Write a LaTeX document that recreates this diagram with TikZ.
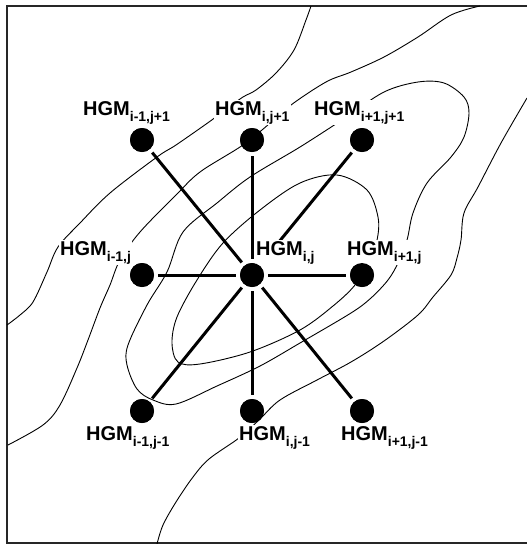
\documentclass[tikz,border=0pt]{standalone}
\usepackage{fontspec}
\setmainfont{Liberation Sans}
\newcommand{\hgmsub}[1]{\raisebox{-6pt}{\fontsize{14}{14}\selectfont #1}}
\begin{document}
\begin{tikzpicture}[x=1pt,y=-1pt,
  contour/.style={line width=0.9pt},
  link/.style={line width=3pt, shorten <=4pt, shorten >=4pt},
  dot/.style={circle, fill=black, minimum size=24pt, inner sep=0pt},
  lab/.style={anchor=base west, fill=white, inner sep=1.5pt, font=\fontsize{20}{20}\selectfont\bfseries}]
\path[use as bounding box] (0,0) rectangle (527,544);
\begin{scope}
\clip (0,0) rectangle (527,544);
\draw[line width=1.3pt, black!85] (7,6) rectangle (545,543);
% contour A
\draw[contour] plot[smooth, tension=0.55] coordinates {(311,6) (306,20) (294,50) (276,73) (256,90) (243,97) (225,110) (209,122) (176,145) (157,157) (110,193) (80,223) (58,247) (47,272) (33,302) (20,315) (7,325)};
% contour B
\draw[contour] plot[smooth, tension=0.55] coordinates {(480,6) (451,15) (418,37) (384,57) (351,72) (326,82) (291,105) (262,130) (240,147) (200,172) (176,195) (140,232) (120,260) (110,285) (100,308) (88,340) (77,368) (60,405) (43,425) (8,445)};
% contour C (closed)
\draw[contour] plot[smooth cycle, tension=0.55] coordinates {(384,92) (418,82) (444,83) (464,97) (469,113) (464,137) (451,157) (427,183) (413,213) (407,240) (398,263) (388,280) (371,298) (351,313) (300,343) (260,366) (217,386) (176,404) (153,400) (137,389) (127,365) (128,345) (147,305) (167,272) (183,232) (217,203) (250,177) (300,147) (345,118)};
% contour D (closed)
\draw[contour] plot[smooth cycle, tension=0.55] coordinates {(337,175) (367,190) (378,217) (377,240) (368,262) (355,285) (333,306) (300,330) (250,352) (200,364) (178,362) (172,343) (177,317) (197,280) (223,243) (260,210) (300,183)};
% contour E
\draw[contour] plot[smooth, tension=0.55] coordinates {(527,98) (501,143) (478,187) (464,213) (461,240) (457,258) (451,275) (433,297) (418,315) (384,341) (351,362) (317,380) (280,400) (259,420) (239,438) (209,459) (193,477) (176,502) (163,525) (157,544)};
\end{scope}
% dots
\node[dot] (d11) at (142,140) {};
\node[dot] (d21) at (252,140) {};
\node[dot] (d31) at (362,140) {};
\node[dot] (d12) at (142,275) {};
\node[dot] (d22) at (252,275) {};
\node[dot] (d32) at (362,275) {};
\node[dot] (d13) at (142,411) {};
\node[dot] (d23) at (252,411) {};
\node[dot] (d33) at (362,411) {};
% links
\foreach \n in {d11,d21,d31,d12,d32,d13,d23,d33}
  \draw[link] (d22) -- (\n);
% labels
\node[lab] (l11) at (81.5,115) {HGM\hgmsub{i-1,j+1}};
\node[lab] (l21) at (213.5,115) {HGM\hgmsub{i,j+1}};
\node[lab] (l31) at (312.5,115) {HGM\hgmsub{i+1,j+1}};
\node[lab] (l12) at (58.5,255) {HGM\hgmsub{i-1,j}};
\node[lab] (l22) at (254.5,255) {HGM\hgmsub{i,j}};
\node[lab] (l32) at (345.5,255) {HGM\hgmsub{i+1,j}};
\node[lab] (l13) at (84.5,440) {HGM\hgmsub{i-1,j-1}};
\node[lab] (l23) at (237.5,440) {HGM\hgmsub{i,j-1}};
\node[lab] (l33) at (339.5,440) {HGM\hgmsub{i+1,j-1}};
% dots on top
\foreach \n/\x/\y in {d11/142/140,d21/252/140,d31/362/140,d12/142/275,d22/252/275,d32/362/275,d13/142/411,d23/252/411,d33/362/411}
  \fill (\n.center) circle (12pt);
\end{tikzpicture}
\end{document}
